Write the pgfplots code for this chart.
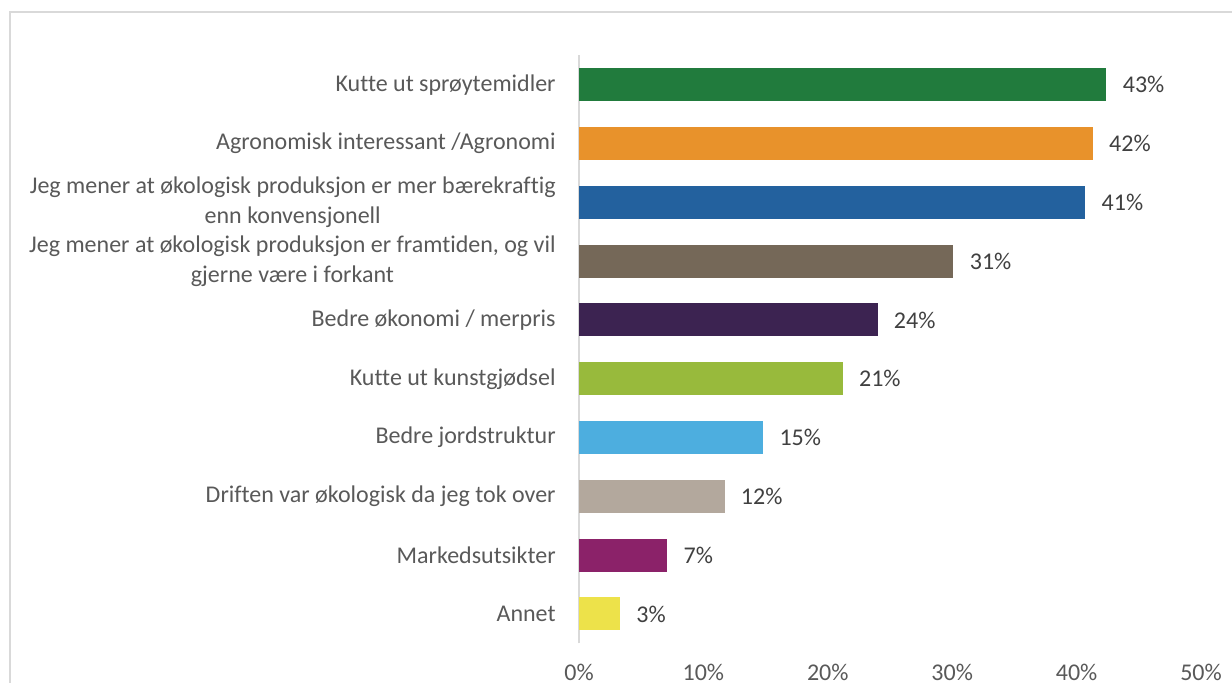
\documentclass[border=0pt]{standalone}
\usepackage{fontspec}
\setmainfont{Carlito}[Ligatures=NoCommon]
\usepackage{pgfplots}
\pgfplotsset{compat=1.18}
\definecolor{c1}{HTML}{217B3D}
\definecolor{c2}{HTML}{E8922B}
\definecolor{c3}{HTML}{23619E}
\definecolor{c4}{HTML}{756858}
\definecolor{c5}{HTML}{3C2351}
\definecolor{c6}{HTML}{98BA3C}
\definecolor{c7}{HTML}{4DAEDF}
\definecolor{c8}{HTML}{B3A89D}
\definecolor{c9}{HTML}{8B2269}
\definecolor{c10}{HTML}{EDE24A}
\definecolor{txt}{HTML}{595959}
\definecolor{lbl}{HTML}{404040}
\definecolor{frame}{HTML}{D9D9D9}
\begin{document}
\begin{tikzpicture}
\clip (0,0) rectangle (616pt,341.5pt);
\draw[frame, line width=0.8pt] (5pt,-20pt) -- (5pt,335.5pt) -- (640pt,335.5pt);
\begin{axis}[
  at={(289.5pt,19.8pt)}, anchor=south west,
  scale only axis,
  width=311pt, height=294pt,
  xbar, bar shift=0pt, bar width=16.5pt,
  xmin=0, xmax=50, ymin=-0.5, ymax=9.5,
  axis lines*=left,
  x axis line style={draw=none},
  y axis line style={draw=frame, line width=1.3pt},
  major tick length=0pt,
  xtick={0,10,20,30,40,50},
  xticklabels={0\%,10\%,20\%,30\%,40\%,50\%},
  xticklabel style={anchor=center, yshift=-14.6pt, text=txt, font=\fontsize{12}{14}\selectfont},
  ytick={0,1,2,3,4,5,6,7,8,9},
  yticklabels={Annet, Markedsutsikter, Driften var økologisk da jeg tok over, Bedre jordstruktur, Kutte ut kunstgjødsel, Bedre økonomi / merpris, {Jeg mener at økologisk produksjon er framtiden, og vil\\gjerne være i forkant}, {Jeg mener at økologisk produksjon er mer bærekraftig\\enn konvensjonell}, Agronomisk interessant /Agronomi, Kutte ut sprøytemidler},
  yticklabel style={align=center, anchor=east, inner sep=0pt, xshift=-11.5pt, text=txt, font=\fontsize{12}{15}\selectfont},
  nodes near coords,
  point meta=explicit symbolic,
  nodes near coords style={anchor=west, inner sep=0pt, xshift=8pt, text=lbl, font=\fontsize{12}{14}\selectfont},
  clip=false,
]
\addplot[fill=c1, draw=none] coordinates {(42.4,9) [43\%]};
\addplot[fill=c2, draw=none] coordinates {(41.3,8) [42\%]};
\addplot[fill=c3, draw=none] coordinates {(40.7,7) [41\%]};
\addplot[fill=c4, draw=none] coordinates {(30.1,6) [31\%]};
\addplot[fill=c5, draw=none] coordinates {(24.0,5) [24\%]};
\addplot[fill=c6, draw=none] coordinates {(21.2,4) [21\%]};
\addplot[fill=c7, draw=none] coordinates {(14.8,3) [15\%]};
\addplot[fill=c8, draw=none] coordinates {(11.7,2) [12\%]};
\addplot[fill=c9, draw=none] coordinates {(7.1,1) [7\%]};
\addplot[fill=c10, draw=none] coordinates {(3.3,0) [3\%]};
\end{axis}
\end{tikzpicture}
\end{document}
